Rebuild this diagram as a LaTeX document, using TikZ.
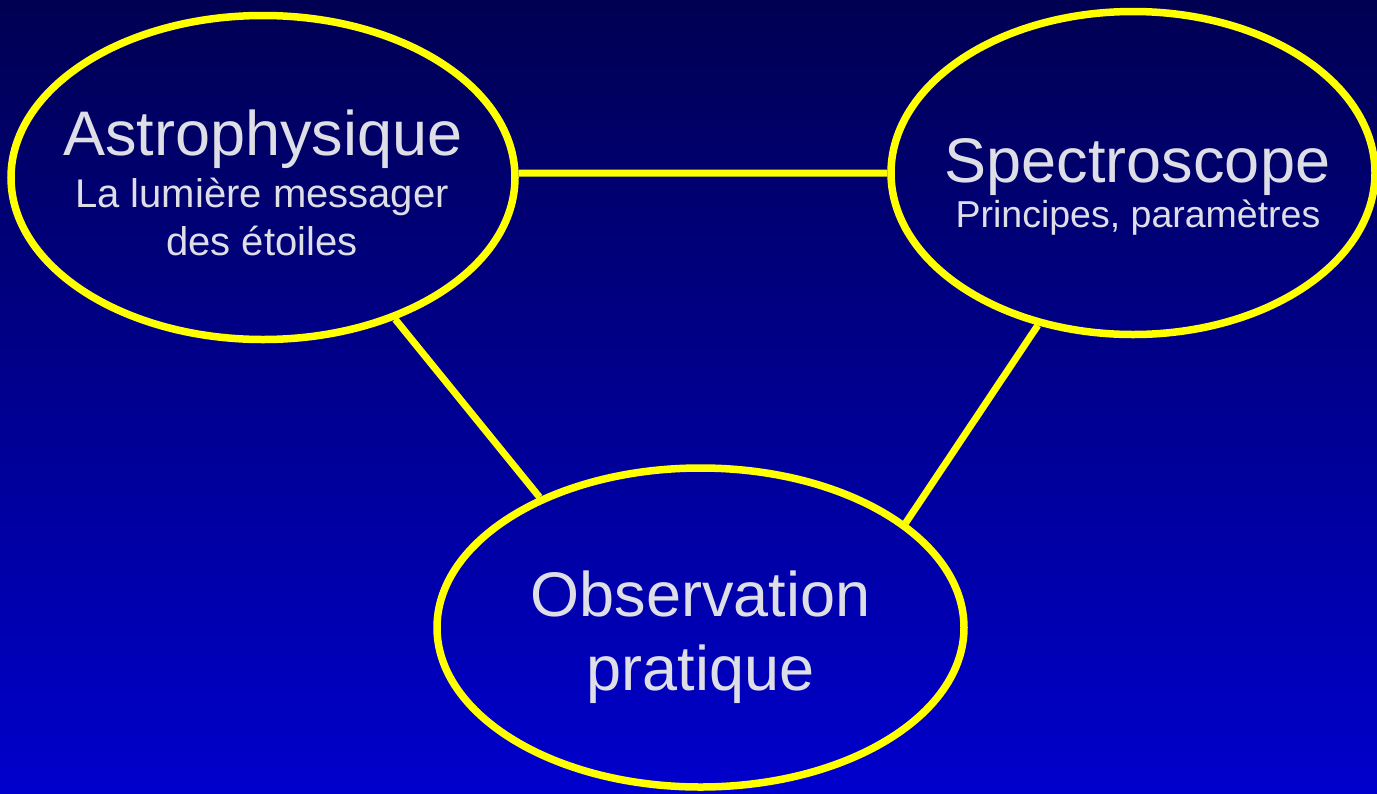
\documentclass[tikz,border=0pt]{standalone}
\usepackage{fontspec}
\setmainfont{Liberation Sans}
\usetikzlibrary{shapes.geometric}
\definecolor{bgtop}{RGB}{0,0,82}
\definecolor{bgbot}{RGB}{0,0,204}
\definecolor{ring}{RGB}{255,255,0}
\definecolor{txtc}{RGB}{222,222,230}
\tikzset{
  ell/.style={ellipse, draw=ring, line width=7.5pt, inner sep=0pt},
  link/.style={draw=ring, line width=7pt},
  bigtxt/.style={anchor=base, text=txtc, inner sep=0pt, font=\fontsize{63}{70}\selectfont},
  smalltxt/.style={anchor=base, text=txtc, inner sep=0pt, font=\fontsize{40}{46}\selectfont}
}
\begin{document}
\begin{tikzpicture}[x=1pt,y=-1pt]
\useasboundingbox (0,0) rectangle (1377,793);
\clip (0,0) rectangle (1377,793);
\shade[top color=bgtop, bottom color=bgbot] (0,0) rectangle (1377,793);

\node[ell, minimum width=504pt, minimum height=324pt] (astro) at (263,177.5) {};
\node[ell, minimum width=484pt, minimum height=323pt] (spec) at (1133,173) {};
\node[ell, minimum width=527pt, minimum height=319pt] (obs) at (700.5,627.5) {};

\draw[link] (astro.1.25) -- (spec.180.6);
\draw[link] (astro.-47.6) -- (obs.141.5);
\draw[link] (spec.238.3) -- (obs.27.5);

\node[bigtxt] (astroT) at (263,155) {Astrophysique};
\node[smalltxt] (astroS1) at (262,207) {La lumière messager};
\node[smalltxt] (astroS2) at (262,255) {des étoiles};

\node[bigtxt] (specT) at (1137.5,182) {Spectroscope};
\node[smalltxt, font=\fontsize{37.5}{44}\selectfont] (specS) at (1138,227) {Principes, paramètres};

\node[bigtxt] (obsT1) at (700.5,616) {Observation};
\node[bigtxt] (obsT2) at (700.5,690) {pratique};
\end{tikzpicture}
\end{document}
